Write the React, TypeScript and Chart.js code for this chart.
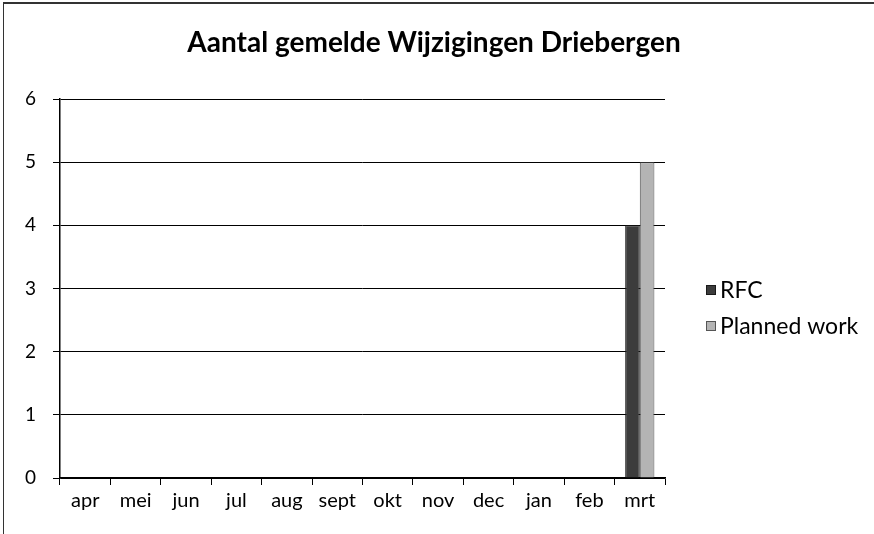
import React, { useEffect, useRef } from "react";
import { Chart, registerables } from "chart.js";

Chart.register(...registerables);

const TITLE = "Aantal gemelde Wijzigingen Driebergen";
const months = ["apr", "mei", "jun", "jul", "aug", "sept", "okt", "nov", "dec", "jan", "feb", "mrt"];
const rfc = [0, 0, 0, 0, 0, 0, 0, 0, 0, 0, 0, 4];
const planned = [0, 0, 0, 0, 0, 0, 0, 0, 0, 0, 0, 5];
const FONT = "Lato, 'Open Sans', sans-serif";

const decorations = {
  id: "decorations",
  afterDraw(chart: any) {
    const { ctx, chartArea, width } = chart;
    ctx.save();
    // title
    ctx.font = `bold 28px ${FONT}`;
    ctx.fillStyle = "#000";
    ctx.textAlign = "center";
    ctx.textBaseline = "middle";
    ctx.fillText(TITLE, width / 2 - 3, 43);
    // legend
    const x0 = chartArea.right + 41;
    const yMid = 308;
    const gap = 36;
    const sets = chart.data.datasets;
    ctx.font = `23px ${FONT}`;
    ctx.textAlign = "left";
    sets.forEach((ds: any, i: number) => {
      const y = yMid + (i - (sets.length - 1) / 2) * gap;
      ctx.fillStyle = ds.backgroundColor;
      ctx.strokeStyle = ds.borderColor;
      ctx.lineWidth = 1;
      ctx.fillRect(x0, y - 5, 10, 10);
      ctx.strokeRect(x0 + 0.5, y - 4.5, 9, 9);
      ctx.fillStyle = "#000";
      ctx.fillText(ds.label, x0 + 14, y + 1);
    });
    ctx.restore();
  },
};

export default function App() {
  const ref = useRef<HTMLCanvasElement | null>(null);
  useEffect(() => {
    if (!ref.current) return;
    const chart = new Chart(ref.current, {
      type: "bar",
      data: {
        labels: months,
        datasets: [
          { label: "RFC", data: rfc, backgroundColor: "#3c3c3c", borderColor: "#1a1a1a", borderWidth: 1 },
          { label: "Planned work", data: planned, backgroundColor: "#b4b4b4", borderColor: "#555", borderWidth: 1 },
        ],
      },
      plugins: [decorations],
      options: {
        animation: false,
        responsive: false,
        maintainAspectRatio: false,
        layout: { padding: { top: 99, left: 18, right: 209, bottom: 17 } },
        datasets: { bar: { categoryPercentage: 0.58, barPercentage: 1 } },
        plugins: {
          title: { display: false },
          legend: { display: false },
          tooltip: { enabled: false },
        },
        scales: {
          x: {
            offset: true,
            grid: { display: true, drawOnChartArea: false, drawTicks: true, tickLength: 7, color: "#000", offset: true },
            border: { display: true, color: "#000", width: 1.5 },
            ticks: { color: "#000", font: { family: FONT, size: 20 }, padding: 4 },
          },
          y: {
            min: 0,
            max: 6,
            ticks: { stepSize: 1, color: "#000", font: { family: FONT, size: 19 }, padding: 17 },
            grid: { color: "#000", lineWidth: 1, tickLength: 7, drawTicks: true },
            border: { display: true, color: "#000", width: 1.5 },
            afterFit: (s: any) => { s.width = 42; },
          },
        },
      },
    });
    return () => chart.destroy();
  }, []);
  return (
    <div style={{ position: "fixed", left: 0, top: 0, width: 874, height: 534, background: "#fff" }}>
      <div style={{ position: "absolute", left: 3, top: 2, right: 0, height: 2, background: "#333" }} />
      <div style={{ position: "absolute", left: 3, top: 2, width: 1, bottom: 0, background: "#333" }} />
      <canvas ref={ref} width={874} height={534} style={{ position: "absolute", left: 0, top: 0 }} />
    </div>
  );
}
